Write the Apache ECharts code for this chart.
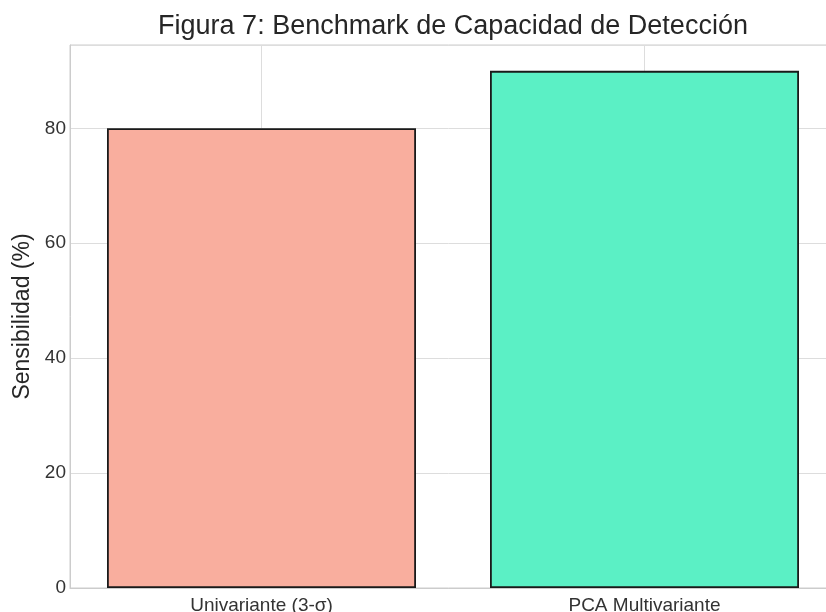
<!DOCTYPE html>
<html>
<head>
<meta charset="utf-8">
<script src="https://cdn.jsdelivr.net/npm/echarts@6/dist/echarts.min.js"></script>
<style>
  html, body { margin: 0; padding: 0; background: #fff; }
  #chart { width: 826px; height: 612px; }
</style>
</head>
<body>
<div id="chart"></div>
<script>
// datos del grafico
var metodos = ['Univariante (3-σ)', 'PCA Multivariante'];
var sensibilidad = [80, 90];
var colores = ['#F9AE9E', '#5BF0C5'];
var yTicks = [0, 20, 40, 60, 80];

var myChart = echarts.init(document.getElementById('chart'));

var option = {
  backgroundColor: '#fff',
  textStyle: { fontFamily: 'Liberation Sans' },
  title: {
    text: 'Figura 7: Benchmark de Capacidad de Detección',
    left: 448,
    textAlign: 'center',
    top: 8,
    textStyle: { fontSize: 27, fontWeight: 'normal', color: '#262626', fontFamily: 'Liberation Sans' }
  },
  grid: {
    left: 70,
    top: 45,
    width: 766,
    height: 543,
    outerBoundsMode: 'none',
    containLabel: false,
    show: true,
    borderColor: '#cccccc',
    borderWidth: 1
  },
  xAxis: {
    type: 'category',
    data: metodos,
    axisLine: { show: true, lineStyle: { color: '#cccccc' } },
    axisTick: { show: false },
    axisLabel: { fontSize: 19, color: '#333', margin: 8 },
    // lineas verticales centradas en cada barra
    splitLine: { show: true, alignWithLabel: true, lineStyle: { color: '#dddddd', width: 1 } }
  },
  yAxis: {
    type: 'value',
    min: 0,
    max: 94.5,
    interval: 20,
    name: 'Sensibilidad (%)',
    nameLocation: 'middle',
    nameGap: 34,
    nameTextStyle: { fontSize: 23, color: '#262626' },
    axisLine: { show: true, lineStyle: { color: '#cccccc' } },
    axisTick: { show: false },
    axisLabel: {
      fontSize: 19,
      color: '#333',
      margin: 4,
      formatter: function (v) { return yTicks.indexOf(v) >= 0 ? String(v) : ''; }
    },
    splitLine: { show: true, lineStyle: { color: '#dddddd', width: 1 } }
  },
  series: [
    {
      type: 'bar',
      barWidth: 309,
      data: sensibilidad.map(function (v, i) {
        return { value: v, itemStyle: { color: colores[i] } };
      }),
      itemStyle: { borderColor: '#1a1a1a', borderWidth: 1.8 }
    }
  ]
};

myChart.setOption(option);
</script>
</body>
</html>
